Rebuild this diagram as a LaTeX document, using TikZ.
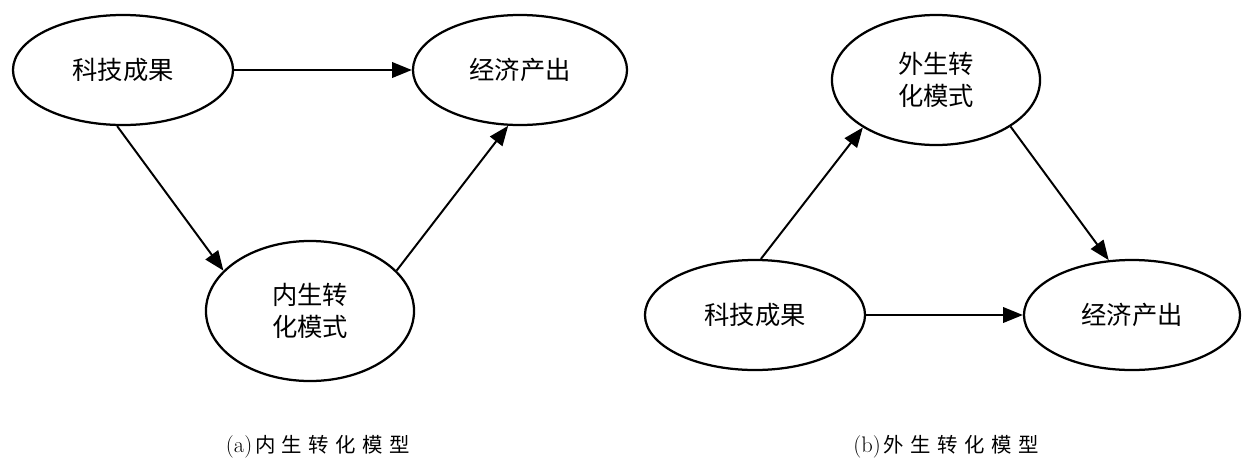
\documentclass[tikz,border=0pt]{standalone}
\usepackage{fontspec}
\usepackage{tikz}
\usetikzlibrary{arrows.meta,shapes.geometric}
\newfontfamily\cjk{Noto Sans CJK SC}
\newfontfamily\capcjk{Noto Sans CJK SC}[LetterSpace=32]

\tikzset{
	ell/.style={draw, ellipse, line width=1.6pt, inner sep=0pt, align=center,
		font=\cjk\fontsize{18}{23}\selectfont},
	flow/.style={-{Triangle[length=14pt,width=11pt]}, line width=1.4pt},
	capt/.style={font=\fontsize{14.5}{16}\selectfont}
}
\newcommand{\capline}[2]{{\rmfamily\fontsize{16}{16}\selectfont(#1)}\hspace{2pt}{\capcjk #2}}

\begin{document}
\begin{tikzpicture}[x=0.025cm, y=-0.025cm]
	\useasboundingbox (0,0) rectangle (1245,462);

	% (a) endogenous
	\node[ell, minimum width=5.5cm, minimum height=2.75cm] (kjA) at (123,70) {科技成果};
	\node[ell, minimum width=5.35cm, minimum height=2.75cm] (jjA) at (520,70) {经济产出};
	\node[ell, minimum width=5.2cm, minimum height=3.5cm] (nsA) at (310,311) {内生转\\化模式};
	\draw[flow] (kjA.east) -- (jjA.west);
	\draw[flow] (kjA.264) -- (nsA.155);
	\draw[flow] (nsA.25) -- (jjA.258);

	% (b) exogenous
	\node[ell, minimum width=5.2cm, minimum height=3.25cm] (wsB) at (936,80) {外生转\\化模式};
	\node[ell, minimum width=5.5cm, minimum height=2.75cm] (kjB) at (755,315) {科技成果};
	\node[ell, minimum width=5.4cm, minimum height=2.75cm] (jjB) at (1132,315) {经济产出};
	\draw[flow] (kjB.84) -- (wsB.213);
	\draw[flow] (wsB.328) -- (jjB.113);
	\draw[flow] (kjB.east) -- (jjB.west);

	% captions
	\node[capt] (capA) at (318,447) {\capline{a}{内生转化模型}};
	\node[capt] (capB) at (946,447) {\capline{b}{外生转化模型}};

\end{tikzpicture}
\end{document}
